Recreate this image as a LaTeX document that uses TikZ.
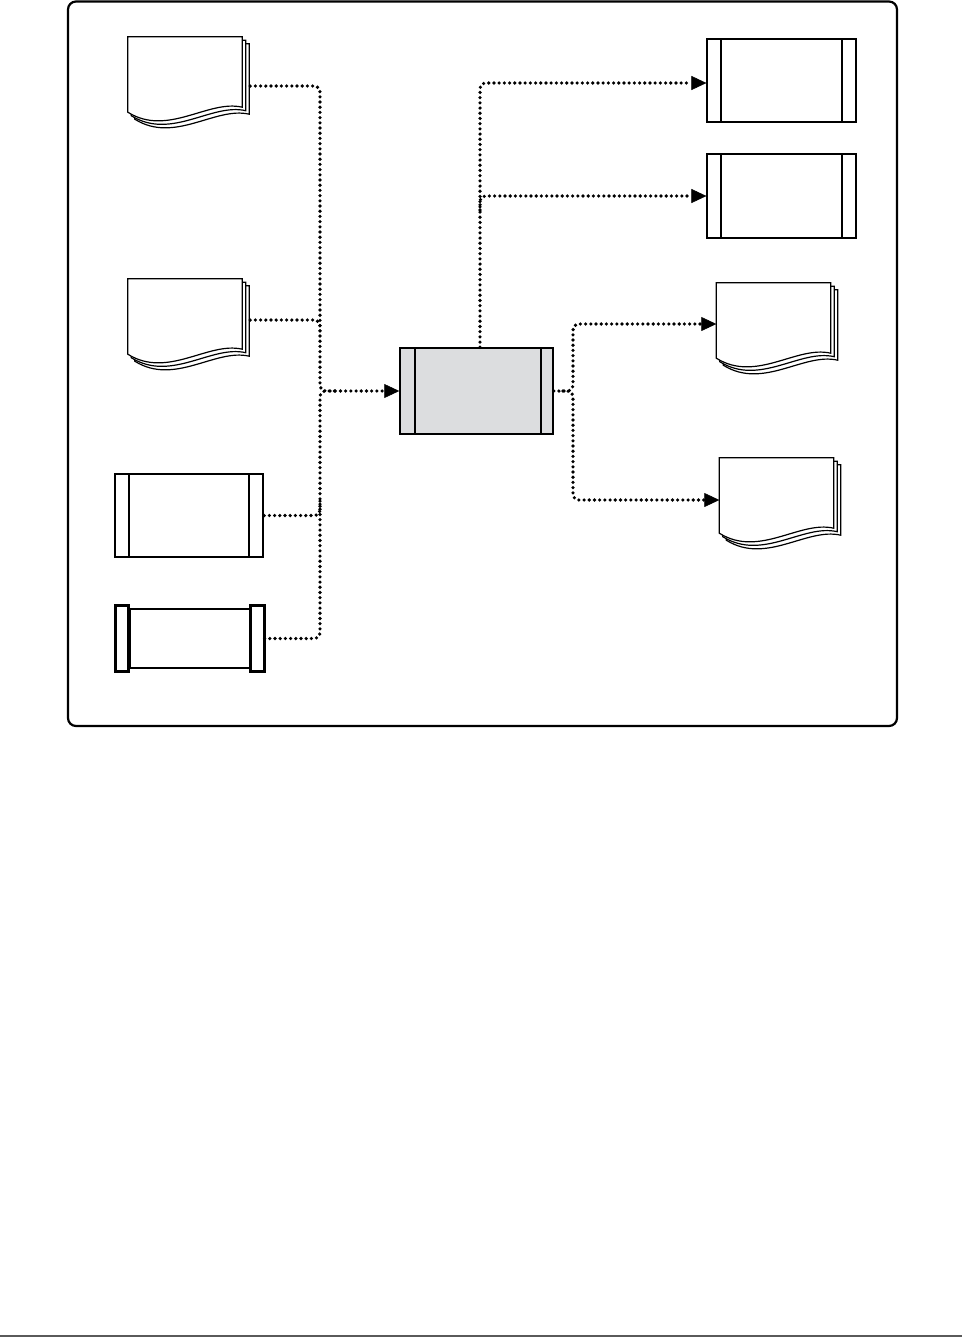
\documentclass[tikz,border=0pt]{standalone}
\usepackage{tikz}
\usetikzlibrary{arrows.meta}

\definecolor{hubgray}{RGB}{220,221,223}
\definecolor{rulegray}{RGB}{90,90,90}

% pile of three pages behind a doc node
\newcommand{\pagestack}[1]{%
  \foreach \s in {7,3.5,0} {%
    \draw[line width=1.2pt, fill=white]
      ([shift={(\s,\s)}]#1.north west) -- ([shift={(\s,\s)}]#1.north east)
      -- ([shift={(\s,\s-5)}]#1.south east)
      .. controls ([shift={(\s-34,\s-13)}]#1.south east) and ([shift={(\s+40,\s+25)}]#1.south west) ..
      ([shift={(\s,\s)}]#1.south west) -- cycle;
  }}

\tikzset{
  link/.style={line width=3.6pt, line cap=round, dash pattern=on 0pt off 5.2pt, rounded corners=6pt},
  tip/.style={-{Triangle[length=15pt,width=14pt,line width=0.5pt]}},
  doc/.style={rectangle, inner sep=0pt, minimum width=114pt, minimum height=75pt},
  bars/.style={path picture={
      \draw[line width=#1] ([xshift=14pt]path picture bounding box.north west) -- ([xshift=14pt]path picture bounding box.south west);
      \draw[line width=#1] ([xshift=-14pt]path picture bounding box.north east) -- ([xshift=-14pt]path picture bounding box.south east);
  }},
  hubbars/.style={path picture={
      \draw[line width=2.4pt] ([xshift=15pt]path picture bounding box.north west) -- ([xshift=15pt]path picture bounding box.south west);
      \draw[line width=1.2pt] ([xshift=-12pt]path picture bounding box.north east) -- ([xshift=-12pt]path picture bounding box.south east);
  }},
  box/.style={draw, rectangle, inner sep=0pt},
}

\begin{document}
\begin{tikzpicture}[x=1pt, y=-1pt]

  \useasboundingbox (0,0) rectangle (965,1339);

  % frame and page rule
  \draw[line width=2.2pt, rounded corners=8pt] (68,1.5) rectangle (897,726);
  \draw[rulegray, line width=2.4pt] (0,1336) -- (962,1336);

  % inputs
  \node[doc] (d1) at (185,74.5) {};
  \node[doc] (d2) at (185,316.5) {};
  \node[box, line width=2.4pt, minimum width=148pt, minimum height=83pt, bars=1.2pt] (b3) at (189,515.5) {};
  \node[box, line width=1.2pt, minimum width=148pt, minimum height=59pt, bars=1.2pt] (b4) at (190,638.5) {};
  \pagestack{d1}
  \pagestack{d2}
  \draw[line width=2.4pt, fill=white] ([shift={(0,-3)}]b4.north west) rectangle ([shift={(13,3)}]b4.south west);
  \draw[line width=2.4pt, fill=white] ([shift={(-14,-3)}]b4.north east) rectangle ([shift={(0,3)}]b4.south east);

  % central program
  \node[box, fill=hubgray, line width=1.5pt, minimum width=153pt, minimum height=86pt, hubbars] (hub) at (476.5,391) {};

  % outputs
  \node[box, line width=1.2pt, minimum width=149pt, minimum height=83pt, bars=2.4pt] (r1) at (781.5,80.5) {};
  \node[box, line width=1.2pt, minimum width=149pt, minimum height=84pt, bars=2.4pt] (r2) at (781.5,196) {};
  \node[doc] (d3) at (773.5,320.5) {};
  \node[doc] (d4) at (776.5,495.5) {};
  \pagestack{d3}
  \pagestack{d4}

  % junction points
  \coordinate (ljoin) at (320,391);
  \coordinate (m2) at (320,335);
  \coordinate (m3) at (320,500);
  \coordinate (m4) at (335,391);
  \coordinate (rjoin) at (573,391);
  \coordinate (rsplit) at (563,391);
  \coordinate (tsplit) at (480,210);

  % into the program
  \draw[link,tip] ([xshift=8pt,yshift=-11.5pt]d1.east) -| (ljoin) -- (hub.west);
  \draw[link] ([xshift=8pt,yshift=-3.5pt]d2.east) -| (m2);
  \draw[link] (b3.east) -| (m3);
  \draw[link] (b4.east) -| (ljoin) -- (m4);

  % out of the program
  \draw[link,tip] ([xshift=3.5pt]hub.north) |- ([yshift=-2.5pt]r1.west);
  \draw[link,tip] (tsplit) |- (r2.west);
  \draw[link,tip] (hub.east) -- (rjoin) |- ([yshift=-3.5pt]d3.west);
  \draw[link,tip] (rsplit) -- (rjoin) |- ([yshift=-4.5pt]d4.west);

\end{tikzpicture}
\end{document}
